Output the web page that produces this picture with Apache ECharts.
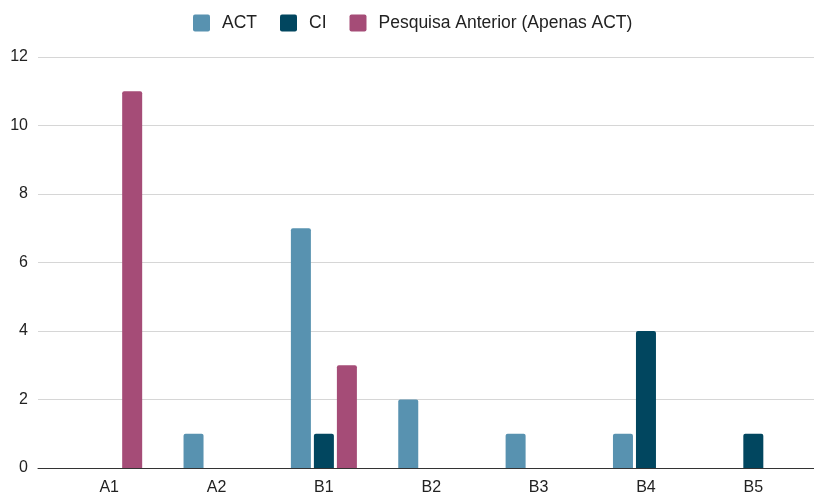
<!DOCTYPE html>
<html>
<head>
<meta charset="utf-8">
<script src="https://cdn.jsdelivr.net/npm/echarts@6/dist/echarts.min.js"></script>
<style>
  html, body { margin: 0; padding: 0; background: #fff; }
  #chart { width: 814px; height: 498px; }
</style>
</head>
<body>
<div id="chart"></div>
<script>
const categories = ['A1', 'A2', 'B1', 'B2', 'B3', 'B4', 'B5'];
const actValues = [0, 1, 7, 2, 1, 1, 0];
const ciValues = [0, 0, 1, 0, 0, 4, 1];
const pesquisaValues = [11, 0, 3, 0, 0, 0, 0];
const yTicks = { min: 0, max: 12, interval: 2 };

const FONT = '"Liberation Sans", Arial, sans-serif';
const colors = { act: '#5892b0', ci: '#01465f', pesquisa: '#a54c77' };

// zero values are not drawn as bars
const nz = arr => arr.map(v => (v === 0 ? '-' : v));

// square legend swatch with slightly rounded corners
const SWATCH = 'path://M2,0 H15 Q17,0 17,2 V15 Q17,17 15,17 H2 Q0,17 0,15 V2 Q0,0 2,0 Z';

const chart = echarts.init(document.getElementById('chart'), null, { renderer: 'canvas' });

const barStyle = c => ({ color: c, borderRadius: [2, 2, 0, 0] });

chart.setOption({
  backgroundColor: '#ffffff',
  animation: false,
  color: [colors.act, colors.ci, colors.pesquisa],
  legend: {
    top: 9,
    left: 188,
    itemWidth: 17,
    itemHeight: 17,
    itemGap: 23,
    icon: SWATCH,
    textStyle: { fontFamily: FONT, fontSize: 17.5, color: '#222', padding: [0, 0, 0, 7] },
    data: ['ACT', 'CI', 'Pesquisa Anterior (Apenas ACT)']
  },
  grid: [
    { left: 38, right: 0, top: 57, bottom: 30 },
    { left: 55.5, right: 7, top: 57, bottom: 30 }
  ],
  xAxis: [
    {
      gridIndex: 0, type: 'value', min: 0, max: 1,
      axisLabel: { show: false }, axisTick: { show: false }, splitLine: { show: false },
      axisLine: { show: true, lineStyle: { color: '#333', width: 1 } }
    },
    {
      gridIndex: 1, type: 'category', data: categories,
      axisLine: { show: false }, axisTick: { show: false },
      axisLabel: { margin: 12, fontFamily: FONT, fontSize: 16, color: '#222' }
    }
  ],
  yAxis: [
    {
      gridIndex: 0, type: 'value', min: yTicks.min, max: yTicks.max, interval: yTicks.interval,
      axisLine: { show: false }, axisTick: { show: false },
      axisLabel: { margin: 10, fontFamily: FONT, fontSize: 16, color: '#222' },
      splitLine: { lineStyle: { color: '#d6d6d6', width: 1 } }
    },
    {
      gridIndex: 1, type: 'value', min: yTicks.min, max: yTicks.max, interval: yTicks.interval,
      show: false, splitLine: { show: false }
    }
  ],
  series: [
    {
      name: 'ACT', type: 'bar', xAxisIndex: 1, yAxisIndex: 1,
      data: nz(actValues), barWidth: 20, barGap: '15%', itemStyle: barStyle(colors.act)
    },
    {
      name: 'CI', type: 'bar', xAxisIndex: 1, yAxisIndex: 1,
      data: nz(ciValues), barWidth: 20, barGap: '15%', itemStyle: barStyle(colors.ci)
    },
    {
      name: 'Pesquisa Anterior (Apenas ACT)', type: 'bar', xAxisIndex: 1, yAxisIndex: 1,
      data: nz(pesquisaValues), barWidth: 20, barGap: '15%', itemStyle: barStyle(colors.pesquisa)
    }
  ]
});
</script>
</body>
</html>
